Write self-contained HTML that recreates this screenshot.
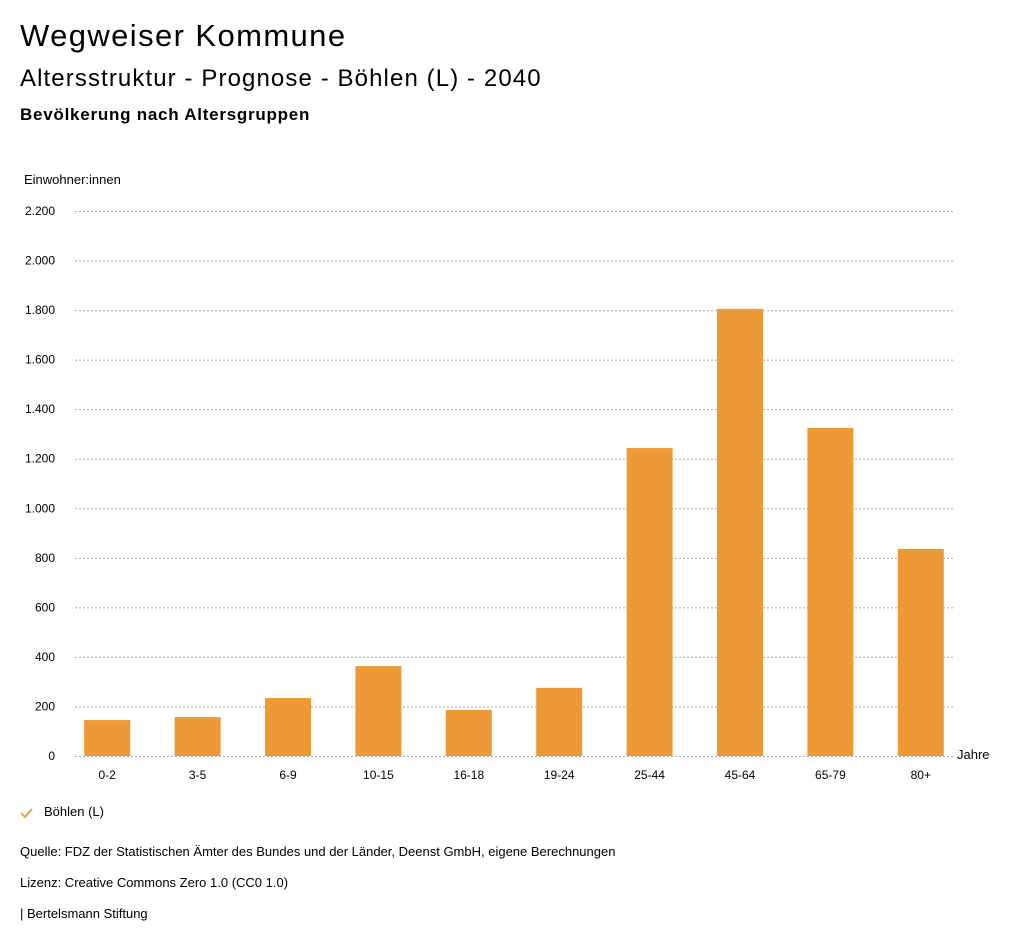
<!DOCTYPE html>
<html><head><meta charset="utf-8"><style>
body{margin:0;background:#fff;font-family:"Liberation Sans","DejaVu Sans",sans-serif;color:#000;}
.t{position:absolute;white-space:nowrap}
</style></head><body>
<div style="position:relative;width:1024px;height:946px;overflow:hidden">
<div class="t" style="left:20px;top:18px;font-size:31px;letter-spacing:1.4px">Wegweiser Kommune</div>
<div class="t" style="left:20px;top:65px;font-size:24px;letter-spacing:1.1px">Altersstruktur - Prognose - Böhlen (L) - 2040</div>
<div class="t" style="left:20px;top:105px;font-size:17px;font-weight:600;letter-spacing:0.75px">Bevölkerung nach Altersgruppen</div>
<svg id="chart" width="1024" height="946" style="position:absolute;left:0;top:0"></svg>
<div class="t" style="left:44px;top:804px;font-size:13px">Böhlen (L)</div>
<svg style="position:absolute;left:19px;top:806px" width="16" height="14"><path d="M2 7 L6 11 L13 3" stroke="#ed9935" stroke-width="1.8" fill="none"/></svg>
<div class="t" style="left:20px;top:844px;font-size:13px">Quelle: FDZ der Statistischen Ämter des Bundes und der Länder, Deenst GmbH, eigene Berechnungen</div>
<div class="t" style="left:20px;top:875px;font-size:13px">Lizenz: Creative Commons Zero 1.0 (CC0 1.0)</div>
<div class="t" style="left:20px;top:906px;font-size:13px">| Bertelsmann Stiftung</div>
</div>
<script>
const categories=["0-2","3-5","6-9","10-15","16-18","19-24","25-44","45-64","65-79","80+"];
const values=[145,157,234,363,186,275,1243,1805,1324,836];
const yTicks=[0,200,400,600,800,1000,1200,1400,1600,1800,2000,2200];
const yTickLabels=["0","200","400","600","800","1.000","1.200","1.400","1.600","1.800","2.000","2.200"];
const svg=document.getElementById('chart');
const NS='http://www.w3.org/2000/svg';
const x0=62,step=90.4,bw=46,yBase=756,yMax=2200,yTop=211;
function y(v){return yBase-(v/yMax)*(yBase-yTop);}
function xc(i){return x0+step*(i+0.5);}
function mk(tag,attrs){const e=document.createElementNS(NS,tag);for(const k in attrs)e.setAttribute(k,attrs[k]);svg.appendChild(e);return e;}
yTicks.forEach((t,i)=>{
  const l=mk('line',{x1:75,x2:953,y1:y(t)+0.5,y2:y(t)+0.5,stroke:'#aaa','stroke-dasharray':'2,2'});
  
  
  const tx=mk('text',{x:55,y:y(t)+4,'text-anchor':'end','font-size':12,'font-family':'Liberation Sans, sans-serif'});
  tx.textContent=yTickLabels[i];
  
  
});
const yt=mk('text',{x:24,y:184,'font-size':13,'font-family':'Liberation Sans, sans-serif'});
yt.textContent='Einwohner:innen';


const xt=mk('text',{x:957,y:759,'font-size':13,'font-family':'Liberation Sans, sans-serif'});
xt.textContent='Jahre';


categories.forEach((c,i)=>{
  const r=mk('rect',{x:xc(i)-bw/2,y:y(values[i]),width:bw,height:yBase-y(values[i]),fill:'#ed9935'});
  
  
  const t=mk('text',{x:xc(i),y:779,'text-anchor':'middle','font-size':12,'font-family':'Liberation Sans, sans-serif'});
  t.textContent=c;
  
  
});
</script>
</body></html>
